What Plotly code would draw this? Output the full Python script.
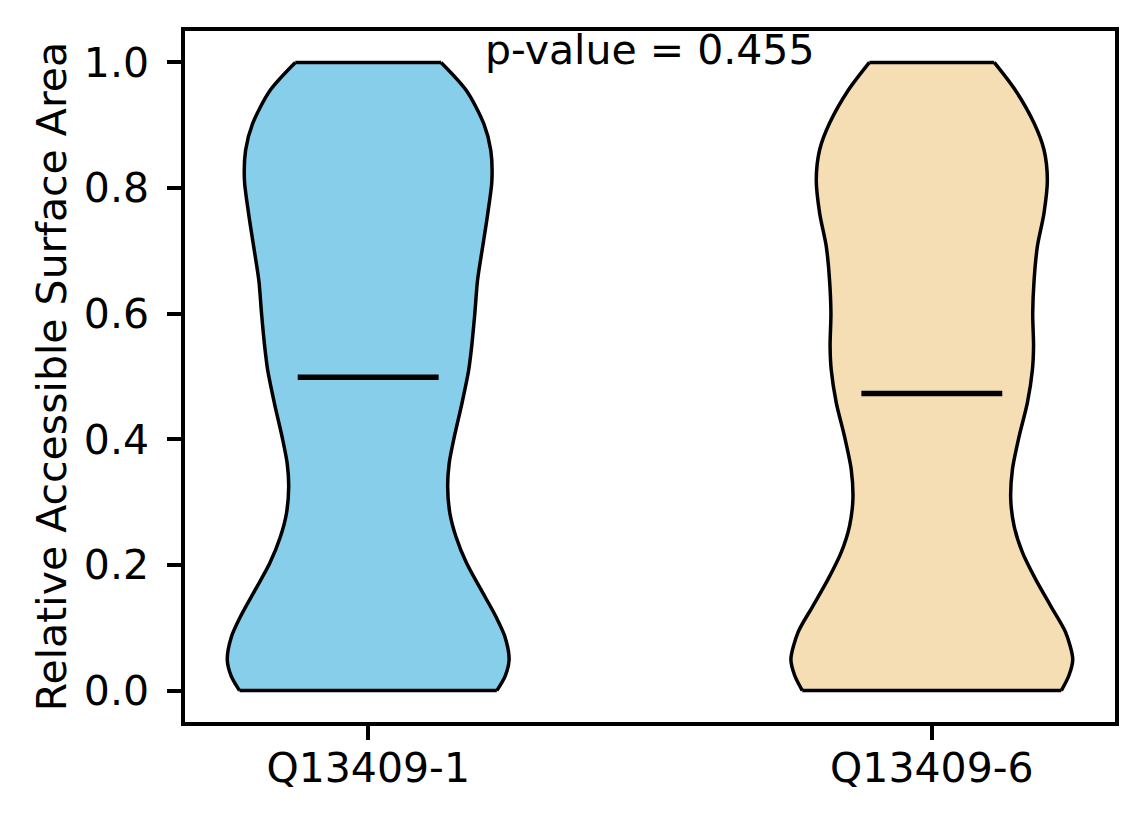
import plotly.graph_objects as go

# categories and summary numbers
groups = ["Q13409-1", "Q13409-6"]
means = [0.499, 0.473]
p_value = 0.455

# kernel density profile of each group (relative width, max = 1) at sampled RSA levels
rsa_1 = [0.0, 0.023, 0.049, 0.086, 0.118, 0.161, 0.203, 0.245, 0.282, 0.325, 0.362, 0.404,
         0.457, 0.51, 0.547, 0.601, 0.653, 0.706, 0.76, 0.812, 0.86, 0.902, 0.955, 1.0]
dens_1 = [0.913, 0.972, 1.0, 0.970, 0.906, 0.800, 0.698, 0.623, 0.580, 0.564, 0.575, 0.611,
          0.665, 0.713, 0.734, 0.757, 0.776, 0.812, 0.849, 0.878, 0.870, 0.821, 0.698, 0.517]

rsa_6 = [0.0, 0.024, 0.05, 0.093, 0.135, 0.177, 0.22, 0.262, 0.305, 0.352, 0.405, 0.458,
         0.511, 0.548, 0.601, 0.654, 0.707, 0.76, 0.813, 0.861, 0.903, 0.956, 1.0]
dens_6 = [0.919, 0.973, 1.0, 0.949, 0.843, 0.737, 0.643, 0.584, 0.560, 0.572, 0.620, 0.678,
          0.714, 0.722, 0.716, 0.726, 0.749, 0.796, 0.820, 0.796, 0.726, 0.592, 0.443]

colors = ["#87CEEB", "#F5DEB3"]
half_width = 0.25
FONT = "DejaVu Sans"
FS = 41
LW = 3.5

fig = go.Figure()

for i, (ys, ds) in enumerate([(rsa_1, dens_1), (rsa_6, dens_6)]):
    pos = i + 1
    left = [pos - half_width * d for d in ds]
    right = [pos + half_width * d for d in ds]
    edge = dict(color="black", width=LW, shape="spline", smoothing=0.8)
    fig.add_trace(go.Scatter(x=left, y=ys, mode="lines", line=edge,
                             showlegend=False, hoverinfo="skip"))
    fig.add_trace(go.Scatter(x=right, y=ys, mode="lines", line=edge,
                             fill="tonextx", fillcolor=colors[i],
                             showlegend=False, hoverinfo="skip"))
    # flat ends of the violin (min and max of the data)
    for k in (0, -1):
        fig.add_trace(go.Scatter(x=[left[k], right[k]], y=[ys[k], ys[k]], mode="lines",
                                 line=dict(color="black", width=LW),
                                 showlegend=False, hoverinfo="skip"))
    # mean marker
    fig.add_trace(go.Scatter(
        x=[pos - half_width / 2, pos + half_width / 2], y=[means[i], means[i]],
        mode="lines", line=dict(color="black", width=5.5),
        showlegend=False, hoverinfo="skip"))

fig.add_annotation(x=1.5, y=0.978, xref="x", yref="y", text=f"p-value = {p_value}",
                   showarrow=False, yanchor="bottom", xanchor="center",
                   font=dict(family=FONT, size=FS, color="black"))

axis_style = dict(showline=True, linecolor="black", linewidth=LW, mirror=True,
                  ticks="outside", ticklen=14, tickwidth=LW, tickcolor="black",
                  showgrid=False, zeroline=False,
                  tickfont=dict(family=FONT, size=FS, color="black"))

fig.update_xaxes(range=[0.675, 2.325], tickvals=[1, 2], ticktext=groups,
                 ticklabelstandoff=-7, **axis_style)
fig.update_yaxes(range=[-0.05, 1.05], tickvals=[0, 0.2, 0.4, 0.6, 0.8, 1.0],
                 tickformat=".1f", ticklabelstandoff=10,
                 title=dict(text="Relative Accessible Surface Area", standoff=5,
                            font=dict(family=FONT, size=FS, color="black")),
                 **axis_style)

fig.update_layout(width=1144, height=824, plot_bgcolor="white", paper_bgcolor="white",
                  margin=dict(l=177, r=37, t=23, b=110),
                  font=dict(family=FONT, size=FS, color="black"))

fig.write_html("out.html")
